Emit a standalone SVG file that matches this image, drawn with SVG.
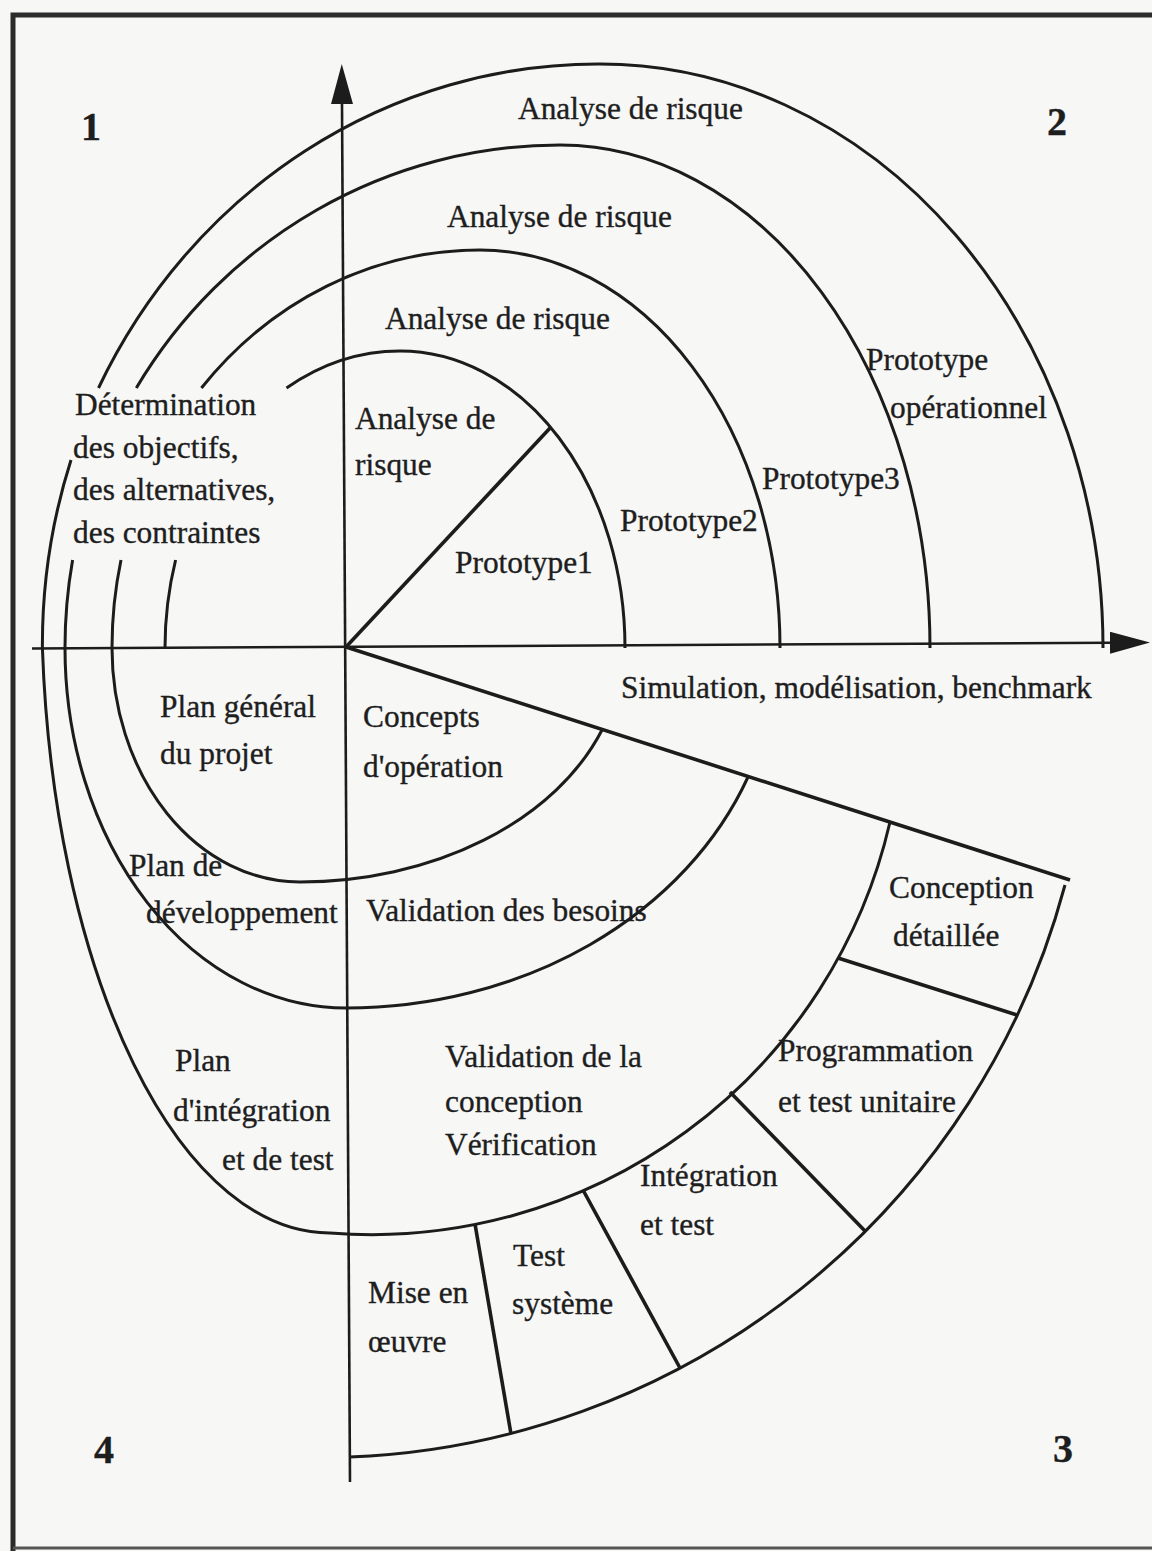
<svg xmlns="http://www.w3.org/2000/svg" width="1152" height="1551" viewBox="0 0 1152 1551">
  <defs>
    <style>
      .paper{fill:#f7f7f6}
      .frame{fill:none;stroke:#2b2b2b;stroke-width:5}
      .axis{fill:none;stroke:#1c1c1c;stroke-width:2.6}
      .arc{fill:none;stroke:#1c1c1c;stroke-width:3}
      .ray{fill:none;stroke:#1c1c1c;stroke-width:3.6}
      text{font-family:"Liberation Serif","Times New Roman",serif;font-size:31.4px;fill:#1e1e1e;stroke:#1e1e1e;stroke-width:0.35}
      .num{font-weight:bold;font-size:40px;text-anchor:middle}
    </style>
    <marker id="arrow" viewBox="0 0 40 22" refX="0" refY="11" markerWidth="40" markerHeight="22" markerUnits="userSpaceOnUse" orient="auto">
      <path d="M0,0 L40,11 L0,22 Z" fill="#1c1c1c"/>
    </marker>
  </defs>

  <rect class="paper" x="0" y="0" width="1152" height="1551"/>
  <path id="frame" class="frame" d="M13,1551 V15 H1152"/>
  <path class="frame" d="M13,1548 H1152" style="stroke-width:3;stroke:#555"/>

  <g id="connectors">
    <!-- axes -->
    <path id="axis-y" class="axis" d="M350,1482 L342,104" marker-end="url(#arrow)"/>
    <path id="axis-x" class="axis" d="M32,648.5 L1110,642.7" marker-end="url(#arrow)"/>
    <!-- radial lines from the origin -->
    <path id="ray-up" class="ray" d="M346,647 L551,427"/>
    <path id="ray-down" class="ray" d="M346,647 L1070,880"/>

    <!-- upper turns of the spiral -->
    <path id="turn1-top" class="arc" d="M286.5,388 A235,297 0 0 1 400,351 A225,297 0 0 1 625,648"/>
    <path id="turn2-top" class="arc" d="M201.4,388 A368,398 0 0 1 480,250 A300,398 0 0 1 780,648"/>
    <path id="turn3-top" class="arc" d="M136.3,388 A495,503 0 0 1 560,145 A370,503 0 0 1 930,648"/>
    <path id="turn4-top" class="arc" d="M98.5,388 A558,584 0 0 1 600,64 A503,584 0 0 1 1103,648"/>

    <!-- lower turns of the spiral -->
    <path id="turn1-low" class="arc" d="M175.6,560 A235,297 0 0 0 165,648"/>
    <path id="turn2-low" class="arc" d="M121,560 A368,398 0 0 0 112,648 A188,234 0 0 0 300,882 A323,234 0 0 0 602,730"/>
    <path id="turn3-low" class="arc" d="M72.6,560 A495,503 0 0 0 65,648 A281,360 0 0 0 346,1008 A430.6,360 0 0 0 748,777"/>
    <path id="turn4-low" class="arc" d="M71,460 A558,584 0 0 0 42.4,648 A288,633 0 0 0 330,1233 A532,532 0 0 0 890,822"/>
    <path id="turn5-low" class="arc" d="M349.5,1457 A772,772 0 0 0 1065,885"/>

    <!-- phase dividers of the last turn -->
    <path id="div-test" class="ray" d="M475,1224 L511,1434"/>
    <path id="div-integration" class="ray" d="M583,1190 L680,1368"/>
    <path id="div-programmation" class="ray" d="M730,1092 L865,1231"/>
    <path id="div-conception" class="ray" d="M838,958 L1017,1015"/>
  </g>

  <g id="quadrant-numbers">
    <text id="q1" class="num" x="91" y="140">1</text>
    <text id="q2" class="num" x="1057" y="135">2</text>
    <text id="q3" class="num" x="1063" y="1462">3</text>
    <text id="q4" class="num" x="104" y="1463">4</text>
  </g>

  <g id="risk-analysis">
    <text id="risk4" x="518" y="119">Analyse de risque</text>
    <text id="risk3" x="447" y="227">Analyse de risque</text>
    <text id="risk2" x="385" y="329">Analyse de risque</text>
    <g id="risk1"><text x="355" y="429">Analyse de</text><text x="355" y="475">risque</text></g>
  </g>

  <g id="objectives">
    <text x="75" y="415">Détermination</text>
    <text x="73" y="458">des objectifs,</text>
    <text x="73" y="500">des alternatives,</text>
    <text x="73" y="543">des contraintes</text>
  </g>

  <g id="prototypes">
    <text id="proto1" x="455" y="573">Prototype1</text>
    <text id="proto2" x="620" y="531">Prototype2</text>
    <text id="proto3" x="762" y="489">Prototype3</text>
    <g id="proto-op"><text x="866" y="370">Prototype</text><text x="890" y="418">opérationnel</text></g>
  </g>

  <text id="simulation" x="621" y="698">Simulation, modélisation, benchmark</text>

  <g id="plans">
    <g id="plan-general"><text x="160" y="717">Plan général</text><text x="160" y="764">du projet</text></g>
    <g id="plan-dev"><text x="129" y="876">Plan de</text><text x="146" y="923">développement</text></g>
    <g id="plan-integ"><text x="175" y="1071">Plan</text><text x="173" y="1121">d'intégration</text><text x="222" y="1170">et de test</text></g>
  </g>

  <g id="development">
    <g id="concepts"><text x="363" y="727">Concepts</text><text x="363" y="777">d'opération</text></g>
    <text id="besoins" x="366" y="921">Validation des besoins</text>
    <g id="valid-conception"><text x="445" y="1067">Validation de la</text><text x="445" y="1112">conception</text><text x="445" y="1155">Vérification</text></g>
    <g id="conception-detaillee"><text x="889" y="898">Conception</text><text x="893" y="946">détaillée</text></g>
    <g id="programmation"><text x="778" y="1061">Programmation</text><text x="778" y="1112">et test unitaire</text></g>
    <g id="integration"><text x="640" y="1186">Intégration</text><text x="640" y="1235">et test</text></g>
    <g id="test-systeme"><text x="513" y="1266">Test</text><text x="512" y="1314">système</text></g>
    <g id="mise-en-oeuvre"><text x="368" y="1303">Mise en</text><text x="368" y="1352">œuvre</text></g>
  </g>
</svg>
